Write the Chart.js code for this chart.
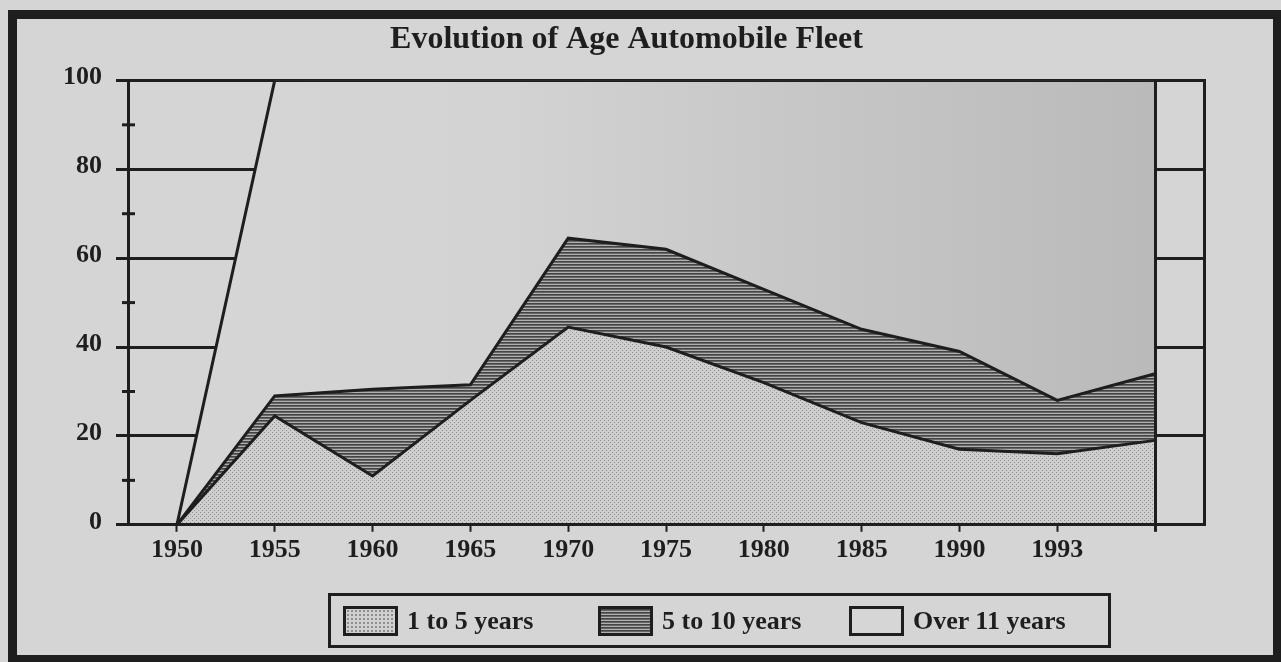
<!DOCTYPE html>
<html>
<head>
<meta charset="utf-8">
<title>Evolution of Age Automobile Fleet</title>
<script src="https://cdn.jsdelivr.net/npm/chart.js@4.4.1/dist/chart.umd.min.js"></script>
<style>
    html, body { margin: 0; padding: 0; background: #d5d5d5; }
    #wrap { position: relative; width: 1281px; height: 662px; overflow: hidden; }
    #chart { position: absolute; left: 0; top: 0; }
    #frame {
        position: absolute; left: 8px; top: 10px; width: 1274px; height: 654px;
        box-sizing: border-box; border: 9px solid #1e1e1e; pointer-events: none;
    }
    #legend {
        position: absolute; left: 328px; top: 593px; width: 783px; height: 55px;
        box-sizing: border-box; border: 3px solid #1e1e1e;
        font-family: 'Liberation Serif', 'Times New Roman', serif; font-weight: bold;
        font-size: 26px; color: #1e1e1e;
    }
    .item { position: absolute; top: 10px; height: 30px; display: flex; align-items: center; }
    .swatch { width: 55px; height: 30px; box-sizing: border-box; border: 3px solid #1e1e1e; margin-right: 9px; }
    .sw1 { background-color: #d0d0d0; background-image: radial-gradient(#8e8e8e 0.8px, transparent 1px); background-size: 4px 4px; }
    .sw2 { background: repeating-linear-gradient(to bottom, #444 0 1px, #666 1px 2px, #b0b0b0 2px 3px); }
    .sw3 { background: #d6d6d6; }
</style>
</head>
<body>
<div id="wrap">
    <canvas id="chart" width="1281" height="662"></canvas>
    <div id="legend">
        <div class="item" style="left:12px"><div class="swatch sw1"></div><span id="lg0"></span></div>
        <div class="item" style="left:267px"><div class="swatch sw2"></div><span id="lg1"></span></div>
        <div class="item" style="left:518px"><div class="swatch sw3"></div><span id="lg2"></span></div>
    </div>
    <div id="frame"></div>
</div>
<script>
// Données (parts en %, empilées)
const years = ['1950', '1955', '1960', '1965', '1970', '1975', '1980', '1985', '1990', '1993', ''];
const seriesNames = ['1 to 5 years', '5 to 10 years', 'Over 11 years'];
const age1to5 = [0, 24.5, 11, 28, 44.5, 40, 32, 23, 17, 16, 19];
const age5to10 = [0, 4.5, 19.5, 3.5, 20, 22, 21, 21, 22, 12, 15];
const ageOver11 = [0, 71, 69.5, 68.5, 35.5, 38, 47, 56, 61, 72, 66];
const minorTicks = [10, 30, 50, 70, 90];

const INK = '#1e1e1e';
const SERIF = "'Liberation Serif', 'Times New Roman', serif";

// petits motifs pour imiter la trame imprimée
function makePattern(w, h, paint) {
    const c = document.createElement('canvas');
    c.width = w; c.height = h;
    const g = c.getContext('2d');
    paint(g);
    return g.createPattern(c, 'repeat');
}

const dotted = makePattern(4, 4, g => {
    g.fillStyle = '#cecece'; g.fillRect(0, 0, 4, 4);
    g.fillStyle = '#8e8e8e'; g.fillRect(0, 0, 1, 1); g.fillRect(2, 2, 1, 1);
});

const hatched = makePattern(4, 3, g => {
    g.fillStyle = '#444444'; g.fillRect(0, 0, 4, 1);
    g.fillStyle = '#666666'; g.fillRect(0, 1, 4, 1);
    g.fillStyle = '#b0b0b0'; g.fillRect(0, 2, 4, 1);
});

function over11Fill(context) {
    const area = context.chart.chartArea;
    if (!area) return '#d5d5d5';
    const grad = context.chart.ctx.createLinearGradient(area.left, 0, area.right, 0);
    grad.addColorStop(0, '#d6d6d6');
    grad.addColorStop(0.35, '#d3d3d3');
    grad.addColorStop(0.6, '#c8c8c8');
    grad.addColorStop(0.95, '#bababa');
    grad.addColorStop(1, '#bababa');
    return grad;
}

// petites graduations intermédiaires de l'axe Y
const minorTickPlugin = {
    id: 'minorTicks',
    afterDraw(chart) {
        const y = chart.scales.y;
        const ctx = chart.ctx;
        ctx.save();
        ctx.strokeStyle = INK;
        ctx.lineWidth = 3;
        minorTicks.forEach(v => {
            const py = y.getPixelForValue(v);
            ctx.beginPath();
            ctx.moveTo(y.right - 6, py);
            ctx.lineTo(y.right + 7, py);
            ctx.stroke();
        });
        ctx.restore();
    }
};

seriesNames.forEach((n, i) => { document.getElementById('lg' + i).textContent = n; });

const lastIdx = years.length - 1;

new Chart(document.getElementById('chart').getContext('2d'), {
    type: 'line',
    data: {
        labels: years,
        datasets: [
            { label: seriesNames[0], data: age1to5, fill: 'origin', backgroundColor: dotted },
            { label: seriesNames[1], data: age5to10, fill: '-1', backgroundColor: hatched },
            { label: seriesNames[2], data: ageOver11, fill: '-1', backgroundColor: over11Fill }
        ].map(ds => Object.assign(ds, {
            borderColor: INK, borderWidth: 3, pointRadius: 0, tension: 0, yAxisID: 'y'
        }))
    },
    options: {
        responsive: false,
        animation: false,
        events: [],
        layout: { padding: { top: 10, left: 49, right: 77, bottom: 93 } },
        plugins: {
            legend: { display: false },
            tooltip: { enabled: false },
            title: {
                display: true,
                text: 'Evolution of Age Automobile Fleet',
                color: INK,
                font: { family: SERIF, size: 32, weight: 'bold' },
                padding: { top: 11, bottom: 21 }
            }
        },
        scales: {
            x: {
                z: 1,
                offset: true,
                border: { color: INK, width: 3, z: 1 },
                grid: {
                    z: 1,
                    offset: false,
                    color: c => c.index === lastIdx ? INK : 'rgba(0,0,0,0)',
                    lineWidth: 3,
                    tickLength: 7,
                    tickColor: INK,
                    tickWidth: c => c.index === lastIdx ? 3 : 2
                },
                ticks: {
                    color: INK,
                    font: { family: SERIF, size: 26, weight: 'bold' },
                    padding: 3,
                    maxRotation: 0,
                    autoSkip: false
                }
            },
            y: {
                stacked: true,
                min: 0,
                max: 100,
                border: { color: INK, width: 3 },
                grid: { color: INK, lineWidth: 3, tickLength: 12 },
                ticks: {
                    stepSize: 20,
                    color: INK,
                    padding: 14,
                    labelOffset: -3,
                    font: { family: SERIF, size: 26, weight: 'bold' }
                }
            },
            y2: {
                position: 'right',
                min: 0,
                max: 100,
                border: { color: INK, width: 3 },
                grid: { drawOnChartArea: false, drawTicks: false },
                ticks: { display: false }
            }
        }
    },
    plugins: [minorTickPlugin]
});
</script>
</body>
</html>
